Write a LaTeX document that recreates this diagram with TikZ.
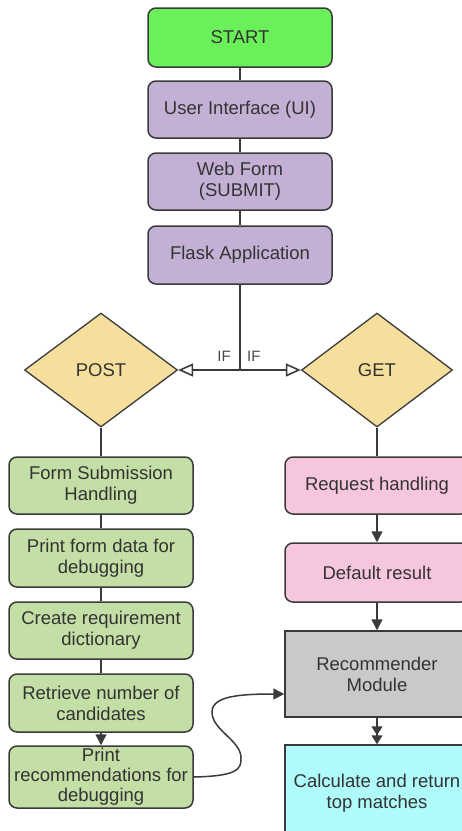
\documentclass[tikz,border=0pt]{standalone}
\usepackage{fontspec}
\setmainfont{Liberation Sans}
\usetikzlibrary{shapes.geometric,arrows.meta}
\definecolor{cstart}{HTML}{6AF159}
\definecolor{cpurple}{HTML}{C4B0D4}
\definecolor{cyellow}{HTML}{F6DE9C}
\definecolor{cgreen}{HTML}{C3DFA6}
\definecolor{cpink}{HTML}{F6C6DE}
\definecolor{cgray}{HTML}{C9C9C9}
\definecolor{ccyan}{HTML}{AFFAFA}
\definecolor{cline}{HTML}{3A3A3A}
\definecolor{ctext}{HTML}{333333}
\tikzset{
  every node/.style={font=\fontsize{18.5}{21}\selectfont, text=ctext},
  boxbase/.style={draw=cline, line width=1.5pt, minimum width=184pt, inner sep=0pt, align=center},
  rbox/.style={boxbase, rounded corners=8pt},
  sbox/.style={boxbase},
  dec/.style={diamond, draw=cline, line width=1.3pt, fill=cyellow, inner sep=0pt, minimum width=153pt, minimum height=114pt},
  conn/.style={draw=cline, line width=1.5pt},
  farrow/.style={conn, -{Triangle[width=11pt,length=11pt]}},
  oarrow/.style={conn, -{Triangle[open,width=13pt,length=15pt,line width=1.6pt]}},
  iflabel/.style={font=\fontsize{15}{17}\selectfont, text=ctext!90}
}
\begin{document}
\begin{tikzpicture}[x=1pt,y=-1pt]
\useasboundingbox (0,0) rectangle (462,831);
\clip (0,0) rectangle (462,831);
% top column
\node[rbox, fill=cstart, minimum height=59pt] (start) at (240,37.5) {START};
\node[rbox, fill=cpurple, minimum height=57pt] (ui) at (240,109.5) {User Interface (UI)};
\node[rbox, fill=cpurple, minimum height=57pt] (web) at (240,181.5) {Web Form\\(SUBMIT)};
\node[rbox, fill=cpurple, minimum height=58pt] (flask) at (240,255) {Flask Application};
\coordinate (j) at (240,370);
% decisions
\node[dec] (post) at (101,370) {POST};
\node[dec, minimum width=151pt] (get) at (377,370) {GET};
% left column
\node[rbox, fill=cgreen, minimum height=57pt] (fs) at (101,485.5) {Form Submission\\Handling};
\node[rbox, fill=cgreen, minimum height=58pt] (pf) at (101,558) {Print form data for\\debugging};
\node[rbox, fill=cgreen, minimum height=57pt] (cr) at (101,630.5) {Create requirement\\dictionary};
\node[rbox, fill=cgreen, minimum height=58pt] (rn) at (101,703) {Retrieve number of\\candidates};
\node[rbox, fill=cgreen, minimum height=62pt, font=\fontsize{18.5}{20}\selectfont] (pr) at (101,777) {Print\\recommendations for\\debugging};
% right column
\node[rbox, fill=cpink, minimum height=57pt] (rh) at (377,485.5) {Request handling};
\node[rbox, fill=cpink, minimum height=59pt] (dr) at (377,572.5) {Default result};
\node[sbox, fill=cgray, minimum height=86pt] (rec) at (377,674) {Recommender\\Module};
\node[sbox, fill=ccyan, minimum height=96pt] (calc) at (377,793) {Calculate and return\\top matches};
% IF labels
\node[iflabel, anchor=south east, inner sep=0pt] (if1) at (231,362) {IF};
\node[iflabel, anchor=south west, inner sep=0pt] (if2) at (247,362) {IF};
% connectors
\draw[conn] (start) -- (ui);
\draw[conn] (ui) -- (web);
\draw[conn] (web) -- (flask);
\draw[conn] (flask) -- (j);
\draw[oarrow] (j) -- (post.east);
\draw[oarrow] (j) -- (get.west);
\draw[conn] (post.south) -- (fs.north);
\draw[conn] (fs) -- (pf);
\draw[conn] (pf) -- (cr);
\draw[conn] (cr) -- (rn);
\draw[farrow] (rn) -- (pr);
\draw[conn] (get.south) -- (rh.north);
\draw[farrow] (rh) -- (dr);
\draw[farrow] (dr) -- (rec);
\draw[conn, -{Triangle[width=11pt,length=9pt] Triangle[width=11pt,length=9pt]}] (rec) -- (calc);
\draw[farrow] (pr.east) .. controls (236,776) and (242,770) .. (241,757)
  .. controls (240,740) and (212,730) .. (212,712)
  .. controls (212,696) and (240,694) .. (rec.west |- 0,694);
\end{tikzpicture}
\end{document}
